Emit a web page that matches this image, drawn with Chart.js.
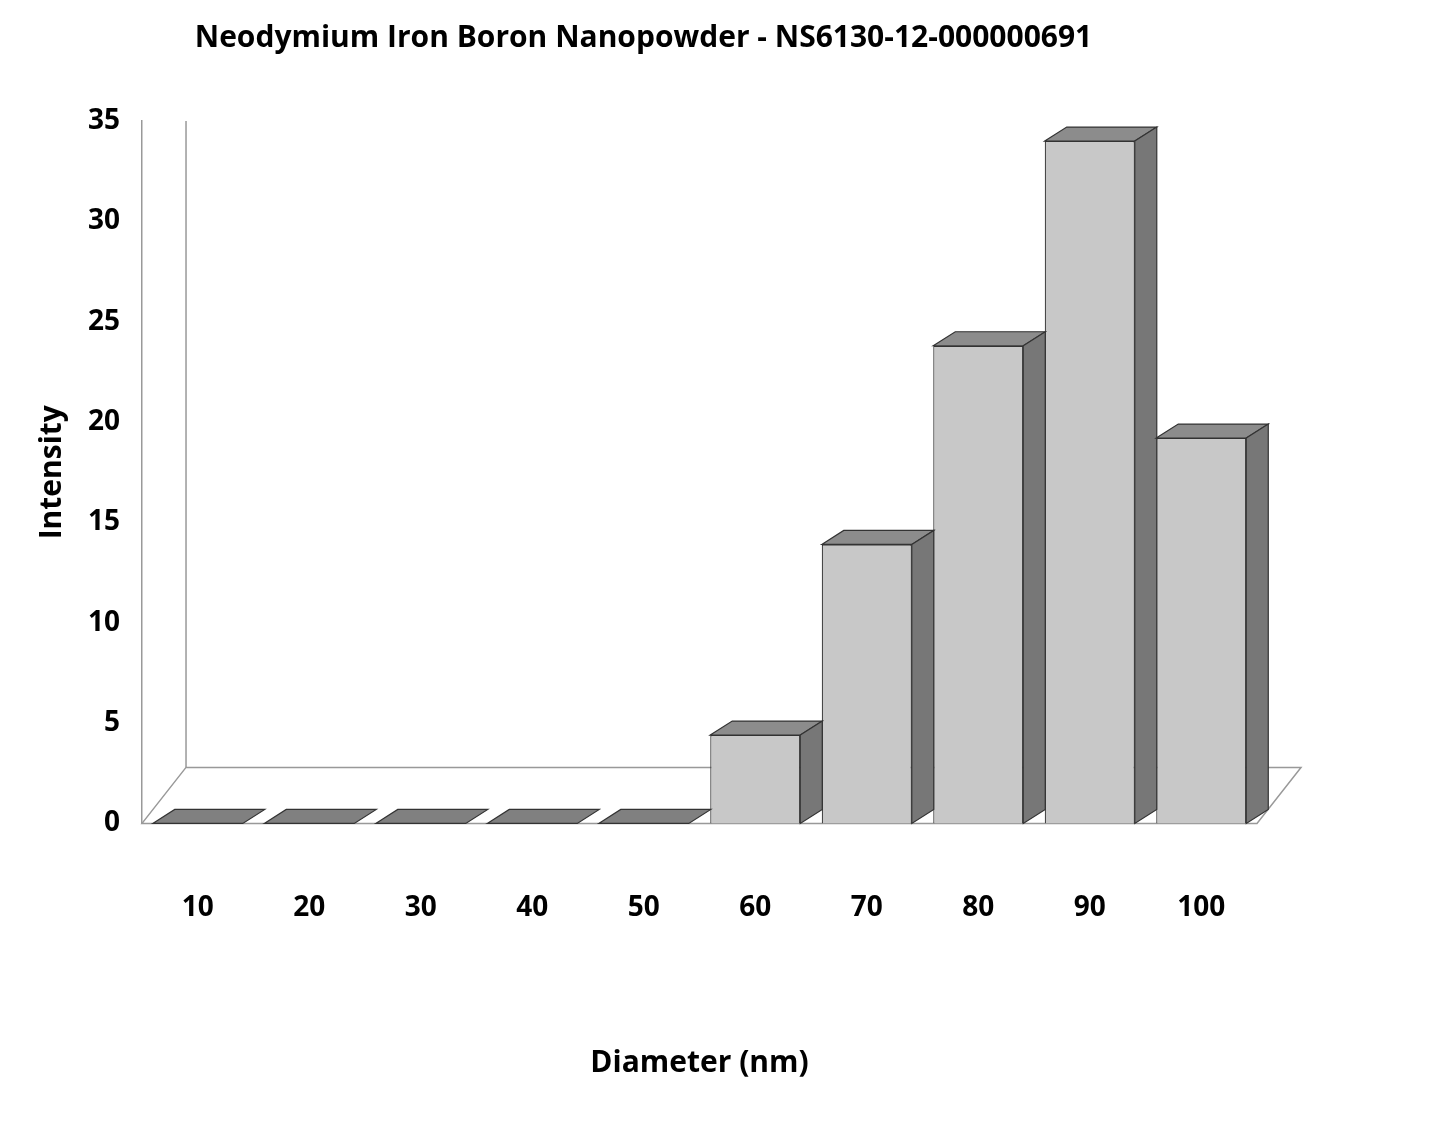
<!DOCTYPE html>
<html><head><meta charset="utf-8">
<script src="https://cdn.jsdelivr.net/npm/chart.js@4"></script>
<style>body{margin:0;background:#fff}#w{width:1437px;height:1125px}</style>
</head><body><div id="w"><canvas id="c"></canvas></div>
<script>
const categories=["10","20","30","40","50","60","70","80","90","100"];
const intensity=[0,0,0,0,0,4.4,13.9,23.8,34,19.2];
const yTicks=[0,5,10,15,20,25,30,35];
const DX=22,DY=14;
const threeD={id:'threeD',
beforeDatasetsDraw(ch){const c=ch.ctx,a=ch.chartArea,y0=ch.scales.y.getPixelForValue(0);
 c.save();c.strokeStyle='#999';c.lineWidth=1.5;c.beginPath();
 c.moveTo(a.left,y0);c.lineTo(a.left+DX*2,y0-DY*4);c.lineTo(a.right+DX*2,y0-DY*4);c.lineTo(a.right,y0);c.closePath();c.stroke();
 c.beginPath();c.moveTo(a.left+DX*2,y0-DY*4);c.lineTo(a.left+DX*2,a.top);c.stroke();c.restore();},
afterDatasetsDraw(ch){const c=ch.ctx;c.save();c.strokeStyle='#333';c.lineWidth=1.2;
 ch.getDatasetMeta(0).data.forEach((b,i)=>{const l=b.x-b.width/2,r=b.x+b.width/2,t=b.y,bs=b.base;
  if(intensity[i]===0){c.fillStyle='#808080';c.beginPath();c.moveTo(l,bs);c.lineTo(l+DX,bs-DY);c.lineTo(r+DX,bs-DY);c.lineTo(r,bs);c.closePath();c.fill();c.stroke();return;}
  c.fillStyle='#8c8c8c';c.beginPath();c.moveTo(l,t);c.lineTo(l+DX,t-DY);c.lineTo(r+DX,t-DY);c.lineTo(r,t);c.closePath();c.fill();c.stroke();
  c.fillStyle='#777';c.beginPath();c.moveTo(r,t);c.lineTo(r+DX,t-DY);c.lineTo(r+DX,bs-DY);c.lineTo(r,bs);c.closePath();c.fill();c.stroke();});
 c.restore();}};
new Chart(document.getElementById('c'),{type:'bar',
data:{labels:categories,datasets:[{data:intensity,backgroundColor:'#c8c8c8',borderColor:'#333',borderWidth:1.2,categoryPercentage:0.85,barPercentage:0.95}]},
options:{responsive:true,maintainAspectRatio:false,animation:false,
 layout:{padding:{left:30,right:180,top:20,bottom:40}},
 plugins:{legend:{display:false},tooltip:{enabled:false},
  title:{display:true,text:'Neodymium Iron Boron Nanopowder - NS6130-12-000000691',color:'#000',font:{family:'Open Sans',size:30,weight:'bold'},padding:{top:0,bottom:65}}},
 scales:{
  x:{grid:{display:false},border:{display:false},ticks:{color:'#000',font:{family:'Open Sans',size:28,weight:'bold'},padding:60},
   title:{display:true,text:'Diameter (nm)',color:'#000',font:{family:'Open Sans',size:30,weight:'bold'},padding:{top:60}}},
  y:{min:0,max:35,afterBuildTicks(s){s.ticks=yTicks.map(v=>({value:v}));},grid:{display:false,drawTicks:true},border:{display:true,color:'#999',width:1.5},
   ticks:{color:'#000',font:{family:'Open Sans',size:28,weight:'bold'},padding:14},
   title:{display:true,text:'Intensity',color:'#000',font:{family:'Open Sans',size:30,weight:'bold'}}}}},
plugins:[threeD]});
</script></body></html>
